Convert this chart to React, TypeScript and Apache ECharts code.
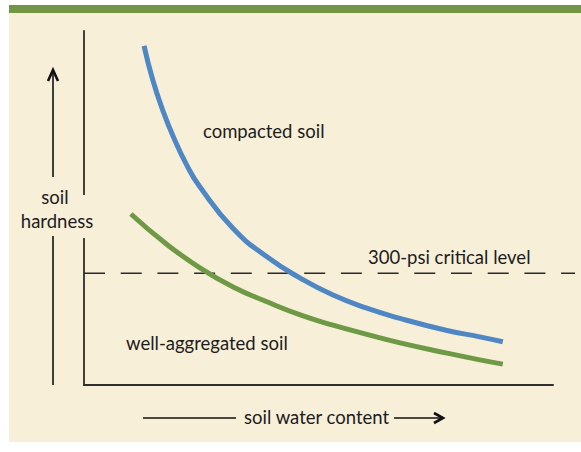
import React, { useEffect, useRef } from "react";
import * as echarts from "echarts";

// soil water content (x, 0-100) vs soil hardness (y, 0-100)
const compactedX = [12.8, 14.7, 16.8, 19.0, 22.0, 24.7, 31.8, 39.0, 46.1, 53.1, 60.3, 67.4, 77.4, 84.4, 89.3];
const compactedY = [95.8, 86.0, 77.6, 70.3, 61.9, 56.0, 44.2, 36.2, 30.2, 25.4, 21.7, 18.8, 15.4, 13.6, 12.2];
const aggregatedX = [10.0, 17.3, 24.7, 31.8, 39.0, 46.1, 53.1, 60.3, 67.4, 77.4, 84.4, 89.3];
const aggregatedY = [48.3, 40.1, 33.1, 27.7, 23.5, 19.8, 16.9, 14.3, 11.9, 9.0, 7.1, 5.9];
const criticalLevel = 31.6;
const criticalSpan = [0, 104.7];

const labels = {
  compacted: "compacted soil",
  aggregated: "well-aggregated soil",
  critical: "300-psi critical level",
  yTitle1: "soil",
  yTitle2: "hardness",
  xTitle: "soil water content",
};

const FONT = '18.5px Lato, "Noto Sans", sans-serif';
const INK = "#1c1c1c";

function txt(text: string, x: number, y: number, align: string = "left") {
  return {
    type: "text",
    z: 100,
    style: {
      text,
      x,
      y,
      font: FONT,
      fill: INK,
      align,
      verticalAlign: "middle",
      textAlign: align,
      textVerticalAlign: "middle",
    },
  };
}

export default function App() {
  const ref = useRef<HTMLDivElement>(null);
  useEffect(() => {
    if (!ref.current) return;
    const chart = echarts.init(ref.current, undefined, { renderer: "svg" });
    const lineCol = "#2e2e2e";
    chart.setOption({
      animation: false,
      backgroundColor: "#ffffff",
      grid: { left: 84, top: 31, right: 28, bottom: 67 },
      xAxis: {
        type: "value",
        min: 0,
        max: 100,
        axisLine: { show: true, onZero: false, lineStyle: { color: lineCol, width: 2 } },
        axisTick: { show: false },
        axisLabel: { show: false },
        splitLine: { show: false },
      },
      yAxis: {
        type: "value",
        min: 0,
        max: 100,
        axisLine: { show: true, onZero: false, lineStyle: { color: lineCol, width: 1.8 } },
        axisTick: { show: false },
        axisLabel: { show: false },
        splitLine: { show: false },
      },
      series: [
        {
          type: "line",
          name: labels.compacted,
          data: compactedX.map((x, i) => [x, compactedY[i]]),
          smooth: 0.5,
          showSymbol: false,
          lineStyle: { color: "#4f87c5", width: 5, cap: "butt" },
          z: 5,
        },
        {
          type: "line",
          name: labels.aggregated,
          data: aggregatedX.map((x, i) => [x, aggregatedY[i]]),
          smooth: 0.5,
          showSymbol: false,
          lineStyle: { color: "#6e9a45", width: 5, cap: "butt" },
          z: 5,
        },
      ],
    });

    const p0 = chart.convertToPixel({ xAxisIndex: 0, yAxisIndex: 0 }, [criticalSpan[0], criticalLevel]) as number[];
    const p1 = chart.convertToPixel({ xAxisIndex: 0, yAxisIndex: 0 }, [criticalSpan[1], criticalLevel]) as number[];

    chart.setOption({
      graphic: {
        elements: [
          { type: "rect", z: -10, shape: { x: 9, y: 13, width: 572, height: 429 }, style: { fill: "#f8efd9" } },
          { type: "rect", z: -9, shape: { x: 9, y: 5, width: 572, height: 8 }, style: { fill: "#749446" } },
          // 300-psi critical level
          {
            type: "line",
            z: 4,
            shape: { x1: p0[0], y1: p0[1], x2: p1[0], y2: p1[1] },
            style: { stroke: "#2a2a2a", lineWidth: 1.5, lineDash: [21, 15.7] },
          },
          // gap in the y axis behind the title
          { type: "rect", z: 50, shape: { x: 80, y: 195, width: 8, height: 43 }, style: { fill: "#f8efd9" } },
          // vertical arrow
          { type: "line", z: 60, shape: { x1: 53, y1: 70, x2: 53, y2: 177 }, style: { stroke: "#111", lineWidth: 1.6 } },
          { type: "line", z: 60, shape: { x1: 53, y1: 236, x2: 53, y2: 385 }, style: { stroke: "#111", lineWidth: 1.6 } },
          { type: "polyline", z: 60, shape: { points: [[48, 81], [53, 70], [58, 81]] }, style: { stroke: "#111", lineWidth: 2.6, fill: "none", lineJoin: "miter" } },
          // horizontal arrow
          { type: "line", z: 60, shape: { x1: 143, y1: 418, x2: 236, y2: 418 }, style: { stroke: "#111", lineWidth: 1.6 } },
          { type: "line", z: 60, shape: { x1: 394, y1: 418, x2: 442, y2: 418 }, style: { stroke: "#111", lineWidth: 1.6 } },
          { type: "polyline", z: 60, shape: { points: [[434, 413], [443, 418], [434, 423]] }, style: { stroke: "#111", lineWidth: 2.6, fill: "none", lineJoin: "miter" } },
          txt(labels.compacted, 203, 131),
          txt(labels.critical, 368, 257),
          txt(labels.aggregated, 126, 343),
          txt(labels.yTitle1, 55, 197, "center"),
          txt(labels.yTitle2, 57, 221, "center"),
          txt(labels.xTitle, 244, 417),
        ],
      },
    });
    return () => chart.dispose();
  }, []);
  return <div ref={ref} style={{ position: "fixed", left: 0, top: 0, width: 581, height: 452 }} />;
}
